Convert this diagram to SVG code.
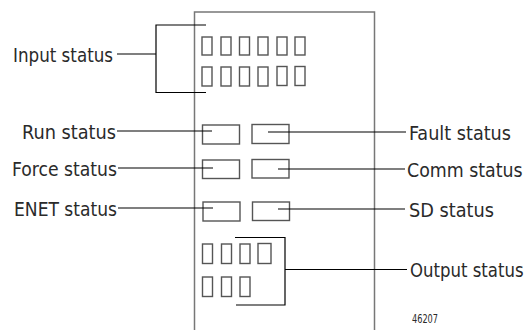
<svg xmlns="http://www.w3.org/2000/svg" width="529" height="330" viewBox="0 0 529 330">
<style>
.lbl{font-family:"Liberation Sans Narrow","DejaVu Sans Condensed","Liberation Sans",sans-serif;font-size:20px;fill:#2a2a2a}
.num{font-family:"Liberation Sans Narrow","DejaVu Sans Condensed","Liberation Sans",sans-serif;font-size:13px;fill:#2a2a2a}
.panel{fill:none;stroke:#777;stroke-width:1.5}
.led{fill:#fff;stroke:#555;stroke-width:1.4}
.ln{fill:none;stroke:#000;stroke-width:1.2}
</style>
<rect width="529" height="330" fill="#fff"/>
<g id="panel">
<path class="panel" d="M194.5,331 V12 H374.5 V331"/>
</g>
<g id="input-leds">
<rect class="led" x="202" y="37" width="10" height="18"/>
<rect class="led" x="221" y="37" width="10" height="18"/>
<rect class="led" x="239.5" y="37" width="10" height="18"/>
<rect class="led" x="258" y="37" width="10" height="18"/>
<rect class="led" x="277" y="37" width="10" height="18"/>
<rect class="led" x="295" y="37" width="10" height="18"/>
<rect class="led" x="202" y="67" width="10" height="19"/>
<rect class="led" x="221" y="67" width="10" height="19"/>
<rect class="led" x="239.5" y="67" width="10" height="19"/>
<rect class="led" x="258" y="67" width="10" height="19"/>
<rect class="led" x="277" y="66.5" width="10" height="19"/>
<rect class="led" x="295" y="66.5" width="10" height="19"/>
</g>
<g id="run-led"><rect class="led" x="202.5" y="125" width="37" height="19"/></g>
<g id="fault-led"><rect class="led" x="252" y="124.5" width="37" height="19"/></g>
<g id="force-led"><rect class="led" x="202.5" y="160" width="37" height="18.5"/></g>
<g id="comm-led"><rect class="led" x="252" y="159.5" width="37" height="18.5"/></g>
<g id="enet-led"><rect class="led" x="203" y="202" width="37" height="19"/></g>
<g id="sd-led"><rect class="led" x="252.5" y="202" width="37" height="18.5"/></g>
<g id="output-leds">
<rect class="led" x="202.5" y="244" width="10" height="19.5"/>
<rect class="led" x="221.5" y="244" width="10" height="19.5"/>
<rect class="led" x="240" y="244" width="10" height="19.5"/>
<rect class="led" x="258" y="243.5" width="13" height="20"/>
<rect class="led" x="202.5" y="277" width="10" height="19.5"/>
<rect class="led" x="221.5" y="277" width="10" height="19.5"/>
<rect class="led" x="240" y="277" width="10" height="19.5"/>
</g>
<g id="connectors">
<path class="ln" d="M206,25 H156 V92.5 H206 M117,54 H156"/>
<path class="ln" d="M117,131 H212"/>
<path class="ln" d="M268,132 H406"/>
<path class="ln" d="M118,168 H213"/>
<path class="ln" d="M278,169 H405"/>
<path class="ln" d="M118,208 H213"/>
<path class="ln" d="M278,209 H405"/>
<path class="ln" d="M235,237.5 H285 V305 H236 M285,269.5 H407"/>
</g>
<g id="labels">
<text class="lbl" x="13" y="61.5" textLength="100" lengthAdjust="spacingAndGlyphs">Input status</text>
<text class="lbl" x="22" y="138.5" textLength="94" lengthAdjust="spacingAndGlyphs">Run status</text>
<text class="lbl" x="12" y="175.5" textLength="105" lengthAdjust="spacingAndGlyphs">Force status</text>
<text class="lbl" x="14" y="215.5" textLength="103" lengthAdjust="spacingAndGlyphs">ENET status</text>
<text class="lbl" x="409" y="139.5" textLength="102" lengthAdjust="spacingAndGlyphs">Fault status</text>
<text class="lbl" transform="translate(407,176.5) scale(0.85,1)" textLength="136" lengthAdjust="spacingAndGlyphs">Comm status</text>
<text class="lbl" x="409" y="216.5" textLength="85" lengthAdjust="spacingAndGlyphs">SD status</text>
<text class="lbl" transform="translate(410,276.5) scale(0.8,1)" textLength="142" lengthAdjust="spacingAndGlyphs">Output status</text>
<text class="num" x="412" y="323" textLength="26" lengthAdjust="spacingAndGlyphs">46207</text>
</g>
</svg>
